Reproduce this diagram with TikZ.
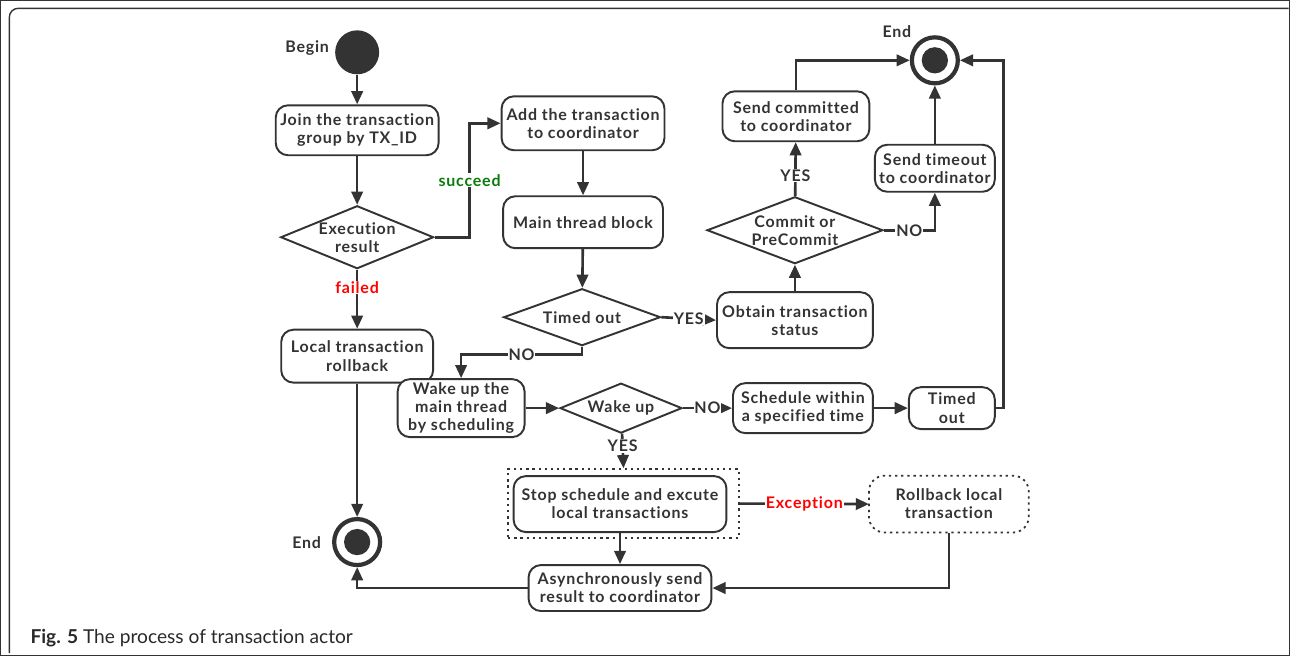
\documentclass[tikz,border=0pt]{standalone}
\usepackage{fontspec}
\setmainfont{Lato}[Ligatures=NoCommon]
\newfontfamily\flowfont{Lato}[Ligatures=NoCommon,LetterSpace=5]
\usepackage{xcolor}
\usetikzlibrary{arrows.meta,positioning,shapes.geometric}
\definecolor{flowGray}{HTML}{333333}
\definecolor{okGreen}{HTML}{0B7A0B}
\definecolor{errRed}{HTML}{FF0000}

\begin{document}
\begin{tikzpicture}[x=0.02cm,y=-0.02cm,
  font=\flowfont\fontsize{9.1}{10.3}\selectfont\bfseries, text=flowGray,
  every path/.style={draw=flowGray},
  act/.style={rectangle,rounded corners=7pt,draw=flowGray,line width=1.1pt,
    align=center,inner sep=1pt,fill=white},
  dec/.style={diamond,draw=flowGray,line width=1.1pt,align=center,inner sep=0pt,fill=white},
  endpt/.style={circle,draw=flowGray,line width=2.4pt,minimum size=0.92cm,inner sep=0pt,
    path picture={\fill[flowGray] (path picture bounding box.center) circle (0.22cm);}},
  arr/.style={line width=1.5pt,-{Triangle[length=7.5pt,width=6.5pt]}},
  lbl/.style={fill=white,inner sep=0.5pt}]
\useasboundingbox (0,0) rectangle (1290,655);
% --- frame and caption ---
\draw[line width=0.8pt,rounded corners=5pt] (1289,8) -- (9,8) -- (9,653);
\node[anchor=base west,font=\fontsize{10.9}{12}\selectfont,text=flowGray!80!black] (cap) at (24,643)
  {\textbf{Fig. 5} The process of transaction actor};
% --- left column ---
\node[circle,fill=flowGray,minimum size=0.88cm,inner sep=0pt] (begin) at (357,52) {};
\node[anchor=east] (beginlbl) at (335,48) {Begin};
\node[act,minimum width=3.26cm,minimum height=1cm] (join) at (357,130)
  {Join the transaction\\group by TX\_ID};
\node[dec,aspect=2.4,minimum width=3.06cm,minimum height=1.26cm] (exec) at (357,237)
  {Execution\\result};
\node[act,minimum width=3.04cm,minimum height=1.06cm] (rollback) at (357,356)
  {Local transaction\\rollback};
\node[endpt] (endbot) at (357,542) {};
\node[anchor=east] (endbotlbl) at (327,543) {End};
% --- middle column ---
\node[act,minimum width=3.26cm,minimum height=1.08cm] (add) at (583,123)
  {Add the transaction\\to coordinator};
\node[act,minimum width=3.2cm,minimum height=1.04cm] (mainblk) at (583,222)
  {Main thread block};
\node[dec,aspect=2.75,minimum width=3.14cm,minimum height=1.14cm] (tmo) at (582,317)
  {Timed out};
\node[act,minimum width=2.54cm,minimum height=1.16cm] (wake) at (461,408)
  {Wake up the\\main thread\\by scheduling};
\node[dec,aspect=2.44,minimum width=2.44cm,minimum height=1cm] (wakeup) at (621,408)
  {Wake up};
\node[draw=flowGray,line width=1pt,dash pattern=on 1.3pt off 2.2pt,minimum width=4.62cm,
  minimum height=1.38cm,inner sep=0pt] (grp) at (623.5,503.5) {};
\node[act,minimum width=4.26cm,minimum height=1.12cm] (stop) at (620,504)
  {Stop schedule and excute\\local transactions};
\node[act,minimum width=3.66cm,minimum height=0.92cm] (async) at (620,588)
  {Asynchronously send\\result to coordinator};
% --- right part ---
\node[act,minimum width=3.12cm,minimum height=1.12cm] (obtain) at (795,320)
  {Obtain transaction\\status};
\node[dec,aspect=2.6,minimum width=3.52cm,minimum height=1.34cm] (commit) at (795,230)
  {Commit or\\PreCommit};
\node[act,minimum width=2.94cm,minimum height=1cm] (sendcmt) at (796,116)
  {Send committed\\to coordinator};
\node[act,minimum width=2.4cm,minimum height=0.94cm] (sendto) at (935,168)
  {Send timeout\\to coordinator};
\node[endpt] (endtop) at (935,60) {};
\node (endtoplbl) at (897,31) {End};
\node[act,minimum width=2.8cm,minimum height=1cm] (sched) at (803,408)
  {Schedule within\\a specified time};
\node[act,minimum width=1.72cm,minimum height=0.84cm] (tmo2) at (952,408)
  {Timed\\out};
\node[act,draw=none,minimum width=3.16cm,minimum height=1.1cm] (rbl) at (949,504)
  {Rollback local\\transaction};
\draw[line width=1pt,dash pattern=on 1.3pt off 2.2pt,rounded corners=9pt]
  (rbl.north west) rectangle (rbl.south east);
% --- connectors ---
\draw[arr] (begin) -- (join);
\draw[arr] (join) -- (exec);
\draw[arr] (exec.east) -- ++(35,0) |- node[pos=0.25,lbl,text=okGreen]{succeed} (add.west);
\draw[arr] (exec) -- node[pos=0.3,lbl,text=errRed]{failed} (rollback);
\draw[arr] (rollback) -- (endbot);
\draw[arr] (add) -- (mainblk);
\draw[arr] (mainblk) -- (tmo);
\draw[arr] (tmo.east) -- node[lbl]{YES} (obtain.west);
\draw[arr] (obtain) -- (commit);
\draw[arr] (commit) -- node[pos=0.38,lbl]{YES} (sendcmt);
\draw[arr] (sendcmt.north) |- (endtop);
\draw[arr] (commit.east) -| node[pos=0.25,lbl]{NO} (sendto);
\draw[arr] (sendto) -- (endtop);
\draw[arr] (tmo2.east) -- ++(8,0) |- (endtop);
\draw[arr] (tmo.south) -- ++(0,8) -| node[pos=0.25,lbl]{NO} (wake.north);
\draw[arr] (wake) -- (wakeup);
\draw[arr] (wakeup) -- node[lbl]{NO} (sched);
\draw[arr] (sched) -- (tmo2);
\draw[arr] (wakeup) -- node[pos=0.36,lbl]{YES} (grp.north);
\draw[arr] (grp.east) -- node[lbl,text=errRed]{Exception} (rbl.west);
\draw[arr] (stop) -- (async);
\draw[arr] (rbl.south) |- (async.east);
\draw[arr] (async.west) -| (endbot);
\end{tikzpicture}
\end{document}
